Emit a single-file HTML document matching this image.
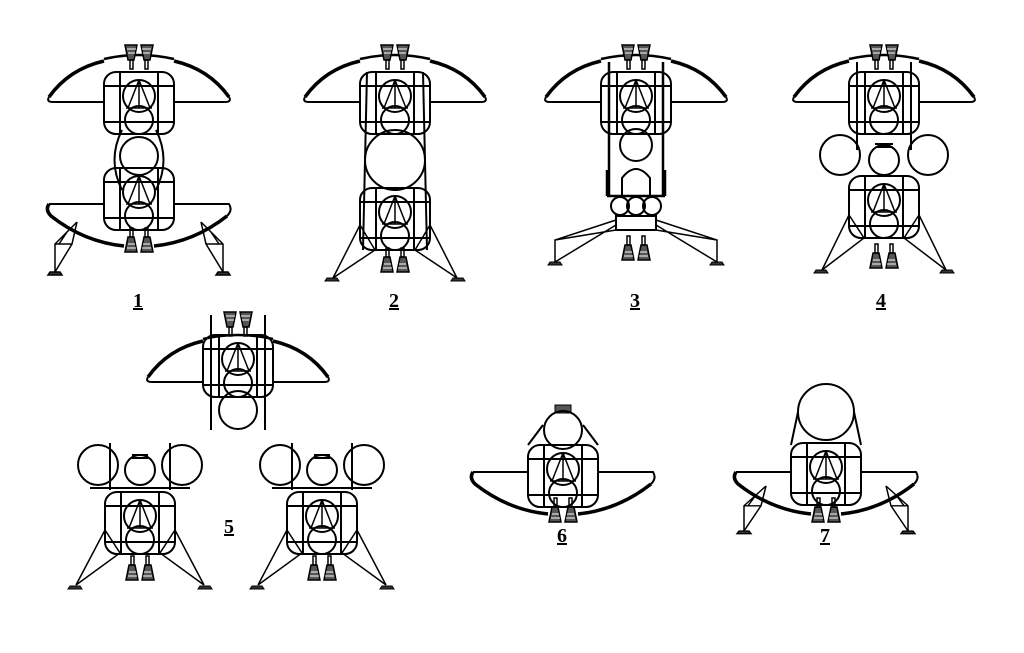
<!DOCTYPE html>
<html><head><meta charset="utf-8"><style>
html,body{margin:0;padding:0;background:#fff}
svg{display:block}
.l{font-family:"Liberation Serif",serif;font-weight:bold;font-size:20px;text-decoration:underline}
</style></head><body>
<svg width="1024" height="653" viewBox="0 0 1024 653" xmlns="http://www.w3.org/2000/svg">
<defs>
<g id="nozU" stroke="#000" stroke-width="1.5" fill="#555">
<path d="M-14,0 L-2,0 L-5,15 L-11,15 Z"/><path d="M2,0 L14,0 L11,15 L5,15 Z"/>
<path d="M-9,15 L-6,15 L-6,24 L-9,24Z M6,15 L9,15 L9,24 L6,24Z" fill="none"/>
<path d="M-12,4 H-3 M-11,8 H-4 M3,4 H12 M4,8 H11" stroke="#fff" stroke-width="1"/>
</g>
<g id="nozD"><use href="#nozU" transform="scale(1,-1)"/></g>
<g id="mod" stroke="#000" stroke-width="2" fill="none">
<rect x="-35" y="0" width="70" height="62" rx="12"/>
<path d="M-35,14 H35 M-35,50 H35 M-19,0 V62 M19,0 V62"/>
<circle cx="0" cy="24" r="16"/><circle cx="0" cy="48" r="14"/>
<path d="M0,8 L-11,36 M0,8 L11,36 M0,8 V36 M-13,36 H13" stroke-width="1.5"/>
</g>
<g id="wingU" stroke="#000" stroke-width="2" fill="none">
<path d="M-90,42 Q-70,14 -35,6 M35,6 Q70,14 90,42" stroke-width="3.5"/>
<path d="M-35,4 Q0,-4 35,4" stroke-width="2.5"/>
<path d="M-90,42 Q-93,47 -86,47 H-35 M35,47 H86 Q93,47 90,42"/>
</g>
<g id="wingL" stroke="#000" stroke-width="2" fill="none">
<path d="M-90,0 H-35 M35,0 H90 Q94,6 88,12"/>
<path d="M-90,0 Q-94,6 -88,12 Q-55,38 -15,42 M15,42 Q55,38 88,12" stroke-width="3.5"/>
</g>
<g id="leg" stroke="#000" stroke-width="1.5" fill="none">
<path d="M0,0 L-22,22 L-22,50 M0,0 L-5,22 L-22,22 M-5,22 L-22,50 M-10,10 L-18,22"/>
<path d="M-29,53 H-15 L-17,50 H-27 Z" fill="#333"/>
</g>
</defs>

<!-- Fig 1 -->
<g transform="translate(139,0)">
<use href="#wingU" y="55"/><use href="#nozU" y="45"/><use href="#mod" y="72"/>
<circle cx="0" cy="156" r="19" stroke="#000" stroke-width="2" fill="none"/>
<path d="M-17,130 Q-32,160 -17,190 M17,130 Q32,160 17,190" stroke="#000" stroke-width="2" fill="none"/>
<use href="#mod" y="168"/><use href="#wingL" y="204"/><use href="#nozD" y="252"/>
<use href="#leg" transform="translate(-62,222)"/><use href="#leg" transform="translate(62,222) scale(-1,1)"/>
<text class="l" x="-6" y="307">1</text>
</g>
<!-- Fig 2 -->
<g transform="translate(395,0)">
<use href="#wingU" y="55"/><use href="#nozU" y="45"/><use href="#mod" y="72"/>
<circle cx="0" cy="160" r="30" stroke="#000" stroke-width="2" fill="none"/>
<path d="M-28,72 L-32,250 M28,72 L32,250" stroke="#000" stroke-width="2" fill="none"/>
<use href="#mod" y="188"/><use href="#nozD" y="272"/>
<path d="M-35,225 L-62,278 M-35,225 L-20,250 L-62,278 M35,225 L62,278 M35,225 L20,250 L62,278 M-20,250 L20,250" stroke="#000" stroke-width="1.5" fill="none"/>
<path d="M-70,281 H-56 L-58,278 H-68Z M56,281 H70 L68,278 H58Z" fill="#333" stroke="#000"/>
<text class="l" x="-6" y="307">2</text>
</g>
<!-- Fig 3 -->
<g transform="translate(636,0)">
<use href="#wingU" y="55"/><use href="#nozU" y="45"/>
<path d="M-27,62 V196 M27,62 V196 M-29,170 V196 M29,170 V196 M-29,196 H29" stroke="#000" stroke-width="2.5" fill="none"/>
<use href="#mod" y="72"/>
<circle cx="0" cy="145" r="16" stroke="#000" stroke-width="2" fill="none"/>
<path d="M-14,195 V178 Q0,160 14,178 V195" stroke="#000" stroke-width="2" fill="none"/>
<g stroke="#000" stroke-width="2" fill="none">
<circle cx="-16" cy="206" r="9"/><circle cx="0" cy="206" r="9"/><circle cx="16" cy="206" r="9"/>
<rect x="-20" y="216" width="40" height="14"/>
<path d="M-20,220 L-81,240 L-81,262 M-20,225 L-81,262 M-20,230 L-81,240 M20,220 L81,240 L81,262 M20,225 L81,262 M20,230 L81,240" stroke-width="1.5"/>
</g>
<path d="M-88,265 H-74 L-76,262 H-86Z M74,265 H88 L86,262 H76Z" fill="#333" stroke="#000"/>
<use href="#nozD" y="260"/>
<text class="l" x="-6" y="307">3</text>
</g>
<!-- Fig 4 -->
<g transform="translate(884,0)">
<use href="#wingU" y="55"/><use href="#nozU" y="45"/><use href="#mod" y="72"/>
<path d="M-27,62 V150 M27,62 V150" stroke="#000" stroke-width="2" fill="none"/>
<g stroke="#000" stroke-width="2" fill="none">
<circle cx="-44" cy="155" r="20"/><circle cx="44" cy="155" r="20"/><circle cx="0" cy="160" r="15"/>
<path d="M-9,144 H9 M-8,147 H8"/>
</g>
<use href="#mod" y="176"/><use href="#nozD" y="268"/>
<path d="M-35,215 L-62,270 M-35,215 L-20,238 L-62,270 M35,215 L62,270 M35,215 L20,238 L62,270" stroke="#000" stroke-width="1.5" fill="none"/>
<path d="M-70,273 H-56 L-58,270 H-68Z M56,273 H70 L68,270 H58Z" fill="#333" stroke="#000"/>
<text class="l" x="-8" y="307">4</text>
</g>
<!-- Fig 5 top -->
<g transform="translate(238,0)">
<use href="#wingU" y="335"/><use href="#nozU" y="312"/>
<path d="M-27,315 V430 M27,315 V430" stroke="#000" stroke-width="2" fill="none"/>
<use href="#mod" y="335"/>
<circle cx="0" cy="410" r="19" stroke="#000" stroke-width="2" fill="none"/>
</g>
<!-- Fig 5 bottom left & right -->
<g id="f5">
<g transform="translate(140,0)">
<g stroke="#000" stroke-width="2" fill="none">
<circle cx="-42" cy="465" r="20"/><circle cx="0" cy="470" r="15"/><circle cx="42" cy="465" r="20"/>
<path d="M-8,455 H8 M-8,458 H8 M-30,443 V490 M30,443 V490 M-50,488 H50"/>
</g>
<use href="#mod" y="492"/><use href="#nozD" y="580"/>
<path d="M-35,530 L-64,585 M-35,530 L-20,553 L-64,585 M35,530 L64,585 M35,530 L20,553 L64,585" stroke="#000" stroke-width="1.5" fill="none"/>
<path d="M-72,589 H-58 L-60,586 H-70Z M58,589 H72 L70,586 H60Z" fill="#333" stroke="#000"/>
</g>
</g>
<use href="#f5" x="182"/>
<text class="l" x="224" y="533">5</text>
<!-- Fig 6 -->
<g transform="translate(563,0)">
<rect x="-8" y="405" width="16" height="8" fill="#555" stroke="#000"/>
<circle cx="0" cy="430" r="19" stroke="#000" stroke-width="2" fill="none"/>
<path d="M-20,425 L-35,445 M20,425 L35,445" stroke="#000" stroke-width="2"/>
<use href="#mod" y="445"/><use href="#wingL" y="472"/><use href="#nozD" y="522"/>
<text class="l" x="-6" y="542">6</text>
</g>
<!-- Fig 7 -->
<g transform="translate(826,0)">
<circle cx="0" cy="412" r="28" stroke="#000" stroke-width="2" fill="none"/>
<path d="M-28,412 L-35,445 M28,412 L35,445" stroke="#000" stroke-width="2"/>
<use href="#mod" y="443"/><use href="#wingL" y="472"/><use href="#nozD" y="522"/>
<use href="#leg" transform="translate(-60,486) scale(1,0.9)"/><use href="#leg" transform="translate(60,486) scale(-1,0.9)"/>
<text class="l" x="-6" y="542">7</text>
</g>
</svg>
</body></html>
